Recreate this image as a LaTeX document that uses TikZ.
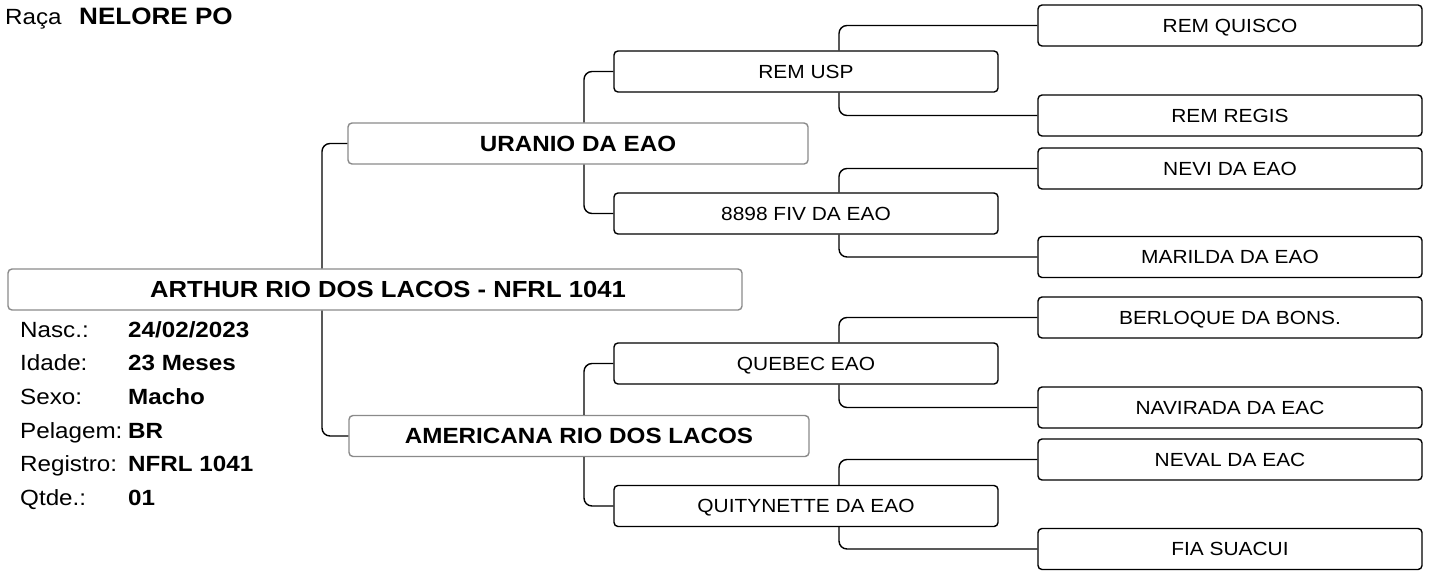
\documentclass[tikz,border=0pt]{standalone}
\usepackage{fontspec}
\setmainfont{Liberation Sans}[FakeStretch=1.1]
\definecolor{bordergray}{HTML}{8A8A8A}
\begin{document}
\begin{tikzpicture}[x=1pt,y=-1pt,
  box/.style={draw=black, line width=1.4pt, rounded corners=4pt, inner sep=0pt,
    minimum width=384pt, minimum height=41pt, text height=13.6pt, text depth=0pt,
    font=\fontsize{19}{20}\selectfont},
  gbox/.style={draw=bordergray, line width=1.4pt, rounded corners=4pt, inner sep=0pt,
    minimum height=41pt, text height=15.8pt, text depth=0pt,
    font=\bfseries\fontsize{22}{24}\selectfont},
  conn/.style={line width=1.4pt, rounded corners=8pt},
  lab/.style={anchor=base west, inner sep=0pt, font=\fontsize{22}{24}\selectfont},
  val/.style={anchor=base west, inner sep=0pt, font=\bfseries\fontsize{22}{24}\selectfont}]
\useasboundingbox (0,0) rectangle (1431,570);

% title
\node[lab] (raca) at (5,24) {Raça};
\node[val, font=\bfseries\fontsize{23.7}{25}\selectfont] (raca-v) at (79,24) {NELORE PO};

% main animal
\node[gbox, minimum width=734pt, text height=16.7pt, font=\bfseries\fontsize{23.3}{25}\selectfont] (main) at (375,289.5) {\hspace*{26pt}ARTHUR RIO DOS LACOS - NFRL 1041};

% info
\node[lab] (l1) at (20,337)   {Nasc.:};
\node[lab] (l2) at (20,370.7) {Idade:};
\node[lab] (l3) at (20,404.4) {Sexo:};
\node[lab] (l4) at (20,438.1) {Pelagem:};
\node[lab] (l5) at (20,471.8) {Registro:};
\node[lab] (l6) at (20,505.5) {Qtde.:};
\node[val] (v1) at (128,337)   {24/02/2023};
\node[val] (v2) at (128,370.7) {23 Meses};
\node[val] (v3) at (128,404.4) {Macho};
\node[val] (v4) at (128,438.1) {BR};
\node[val] (v5) at (128,471.8) {NFRL 1041};
\node[val] (v6) at (128,505.5) {01};

% parents
\node[gbox, minimum width=460pt] (s) at (578,143.5) {URANIO DA EAO};
\node[gbox, minimum width=460pt] (d) at (579,436) {AMERICANA RIO DOS LACOS};

% grandparents
\node[box] (ss) at (806,71.5)  {REM USP};
\node[box] (sd) at (806,213.5) {8898 FIV DA EAO};
\node[box] (ds) at (806,363.5) {QUEBEC EAO};
\node[box] (dd) at (806,506)   {QUITYNETTE DA EAO};

% great-grandparents
\node[box] (sss) at (1230,25.5)  {REM QUISCO};
\node[box] (ssd) at (1230,115.5) {REM REGIS};
\node[box] (sds) at (1230,168.5) {NEVI DA EAO};
\node[box] (sdd) at (1230,257)   {MARILDA DA EAO};
\node[box] (dss) at (1230,317.5) {BERLOQUE DA BONS.};
\node[box] (dsd) at (1230,407.5) {NAVIRADA DA EAC};
\node[box] (dds) at (1230,459.5) {NEVAL DA EAC};
\node[box] (ddd) at (1230,549)   {FIA SUACUI};

% vertical lines
\coordinate (c0) at (322,0);
\coordinate (c1) at (584,0);
\coordinate (c2) at (839,0);

\draw[conn] (main.north -| c0) |- (s.west);
\draw[conn] (main.south -| c0) |- (d.west);

\draw[conn] (s.north -| c1) |- (ss.west);
\draw[conn] (s.south -| c1) |- (sd.west);
\draw[conn] (d.north -| c1) |- (ds.west);
\draw[conn] (d.south -| c1) |- (dd.west);

\draw[conn] (ss.north -| c2) |- (sss.west);
\draw[conn] (ss.south -| c2) |- (ssd.west);
\draw[conn] (sd.north -| c2) |- (sds.west);
\draw[conn] (sd.south -| c2) |- (sdd.west);
\draw[conn] (ds.north -| c2) |- (dss.west);
\draw[conn] (ds.south -| c2) |- (dsd.west);
\draw[conn] (dd.north -| c2) |- (dds.west);
\draw[conn] (dd.south -| c2) |- (ddd.west);
\end{tikzpicture}
\end{document}
